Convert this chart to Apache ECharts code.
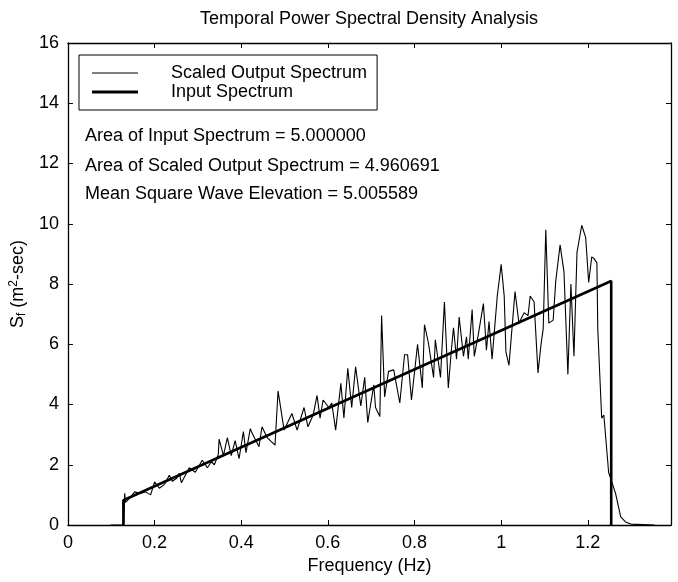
<!DOCTYPE html>
<html>
<head>
<meta charset="utf-8">
<script src="https://cdn.jsdelivr.net/npm/echarts@6/dist/echarts.min.js"></script>
<style>
html,body{margin:0;padding:0;background:#fff;}
#chart{width:678px;height:582px;}
</style>
</head>
<body>
<div id="chart"></div>
<script>
// ---- data ----
const chartTitle = 'Temporal Power Spectral Density Analysis';
const xTicks = [0, 0.2, 0.4, 0.6, 0.8, 1, 1.2];
const yTicks = [0, 2, 4, 6, 8, 10, 12, 14, 16];
const seriesNames = ['Scaled Output Spectrum', 'Input Spectrum'];
const annotations = [
  'Area of Input Spectrum = 5.000000',
  'Area of Scaled Output Spectrum = 4.960691',
  'Mean Square Wave Elevation = 5.005589'
];
// input spectrum (frequency Hz, S m^2-sec)
const inputFreq = [0.128, 0.128, 1.254, 1.254];
const inputVal  = [0, 0.82, 8.1, 0];
// scaled output spectrum (frequency Hz, S m^2-sec)
const outFreq = [0.098,0.129,0.131,0.133,0.143,0.154,0.166,0.179,0.191,0.200,0.211,0.223,0.234,0.241,0.251,0.257,0.262,0.271,0.280,0.294,0.310,0.322,0.331,0.338,0.347,0.349,0.359,0.368,0.377,0.386,0.395,0.405,0.411,0.421,0.425,
0.441,0.448,0.460,0.478,0.485,0.499,0.517,0.529,0.545,0.554,0.566,0.575,0.582,0.589,0.602,0.609,0.618,0.630,0.637,0.646,0.655,0.664,0.676,0.685,0.692,0.706,0.710,0.720,0.724,0.731,0.740,0.752,0.766,0.777,0.784,0.793,
0.807,0.818,0.823,0.832,0.844,0.848,0.860,0.869,0.878,0.885,0.890,0.897,0.903,0.913,0.920,0.924,0.933,0.938,0.947,0.959,0.966,0.972,0.979,0.991,1.000,1.007,1.011,1.018,1.032,1.041,1.053,1.062,1.067,1.076,1.085,1.092,
1.097,1.103,1.110,1.120,1.126,1.136,1.145,1.154,1.161,1.168,1.175,1.186,1.195,1.202,1.209,1.214,1.221,1.223,1.232,1.237,1.248,1.264,1.276,1.287,1.299,1.354];
const outVal = [0,0,1.05,0.75,0.9,1.1,1.05,1.1,1.0,1.43,1.22,1.35,1.65,1.45,1.55,1.72,1.4,1.65,1.9,1.75,2.15,1.9,2.1,2.0,2.33,2.85,2.3,2.9,2.3,2.8,2.2,3.1,2.4,3.2,3.05,
2.6,3.26,2.9,2.65,4.45,3.15,3.7,3.15,3.9,3.26,3.65,4.3,3.55,4.15,3.9,4.05,3.15,4.7,3.55,5.2,3.9,5.25,3.95,4.9,3.4,4.65,3.9,3.6,6.95,4.25,5.1,5.15,4.05,5.65,5.65,4.15,
6.0,4.55,6.65,6.05,4.9,6.15,4.9,7.4,4.55,5.8,6.55,5.5,6.9,5.6,6.25,5.5,7.15,5.6,6.3,7.35,5.8,6.75,5.5,7.6,8.65,7.6,5.75,5.3,7.75,6.7,7.05,6.95,7.6,7.4,5.05,6.0,
6.5,9.8,6.7,6.8,8.1,9.3,8.4,5.0,8.0,5.6,9.05,9.95,9.55,8.05,8.9,8.85,8.7,6.5,3.55,3.65,1.75,1.05,0.27,0.1,0.03,0];

const xMax = 1.392;
const FONT = '"Liberation Sans", Arial, Helvetica, sans-serif';

const outData = outFreq.map((f, i) => [f, outVal[i]]);
const inData = inputFreq.map((f, i) => [f, inputVal[i]]);

const chart = echarts.init(document.getElementById('chart'), null, {renderer: 'canvas'});
const axisCommon = {
  axisLine: {show: true, onZero: false, lineStyle: {color: '#000', width: 1.3}},
  axisTick: {show: true, inside: true, length: 5, lineStyle: {color: '#000', width: 1}},
  splitLine: {show: false}
};
function isTick(list, v) { return list.some(t => Math.abs(t - v) < 1e-6); }

chart.setOption({
  backgroundColor: '#fff',
  animation: false,
  color: ['#000', '#000'],
  title: {
    text: chartTitle, left: 364, top: 5, textAlign: 'center',
    textStyle: {fontFamily: FONT, fontSize: 18, fontWeight: 'normal', color: '#000'}
  },
  grid: {left: 65, right: 7, top: 43, bottom: 57},
  legend: {
    left: 79, top: 55, orient: 'vertical',
    data: [
      {name: seriesNames[0], icon: 'path://M0,0H46V1.2H0Z'},
      {name: seriesNames[1], icon: 'path://M0,0H46V2.8H0Z'}
    ],
    backgroundColor: '#fff',
    borderColor: '#000', borderWidth: 1,
    padding: [9, 10, 9, 13],
    itemWidth: 46, itemHeight: 17, itemGap: 1,
    itemStyle: {color: '#000', borderWidth: 0},
    textStyle: {fontFamily: FONT, fontSize: 18, color: '#000', padding: [0, 0, 0, 28]}
  },
  xAxis: [
    Object.assign({type: 'value', position: 'bottom', min: 0, max: xMax, interval: 0.2,
      name: 'Frequency (Hz)', nameLocation: 'middle', nameGap: 32,
      nameTextStyle: {fontFamily: FONT, fontSize: 18, color: '#000'},
      axisLabel: {fontFamily: FONT, fontSize: 18, color: '#000', margin: 9,
        showMaxLabel: false,
        formatter: v => isTick(xTicks, v) ? String(Math.round(v * 10) / 10) : ''}
    }, axisCommon),
    Object.assign({type: 'value', position: 'top', min: 0, max: xMax, interval: 0.2,
      axisLabel: {show: false}}, axisCommon)
  ],
  yAxis: [
    Object.assign({type: 'value', position: 'left', min: 0, max: 16, interval: 2,
      name: '{s|S}{sub|f}{s| (m}{sup|2}{s|-sec)}', nameLocation: 'middle', nameGap: 25,
      nameRotate: 90,
      nameTextStyle: {fontFamily: FONT, fontSize: 18, color: '#000',
        rich: {
          s: {fontFamily: FONT, fontSize: 18, color: '#000'},
          sub: {fontFamily: FONT, fontSize: 12, color: '#000', verticalAlign: 'bottom', padding: [8, 0, 0, 0]},
          sup: {fontFamily: FONT, fontSize: 12, color: '#000', verticalAlign: 'top', padding: [0, 0, 8, 0]}
        }},
      axisLabel: {fontFamily: FONT, fontSize: 18, color: '#000', margin: 9,
        formatter: v => isTick(yTicks, v) ? String(v) : ''}
    }, axisCommon),
    Object.assign({type: 'value', position: 'right', min: 0, max: 16, interval: 2,
      axisLabel: {show: false}}, axisCommon)
  ],
  graphic: annotations.map((t, i) => ({
    type: 'text', left: 85, top: [127, 157, 185][i],
    style: {text: t, fontFamily: FONT, fontSize: 18, fill: '#000'}
  })),
  series: [
    {name: seriesNames[0], type: 'line', data: outData, symbol: 'none', xAxisIndex: 0, yAxisIndex: 0,
      itemStyle: {color: '#000'}, lineStyle: {color: '#000', width: 1.1}, z: 3},
    {name: seriesNames[1], type: 'line', data: inData, symbol: 'none', xAxisIndex: 0, yAxisIndex: 0,
      itemStyle: {color: '#000'}, lineStyle: {color: '#000', width: 2.6}, z: 4}
  ]
});
</script>
</body>
</html>
